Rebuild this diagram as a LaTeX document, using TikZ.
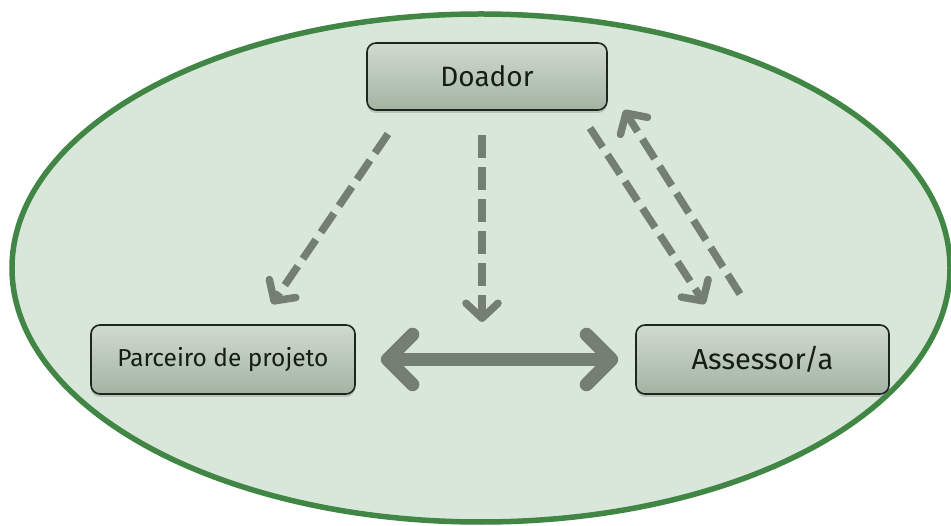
\documentclass[tikz,border=0pt]{standalone}
\usepackage{fontspec}
\setmainfont{Fira Sans}
\usetikzlibrary{arrows.meta,shadows,calc}
\definecolor{ellfill}{HTML}{D9E7DA}
\definecolor{ellline}{HTML}{418645}
\definecolor{arrcol}{HTML}{737F71}
\definecolor{boxtop}{HTML}{D0DBCF}
\definecolor{boxbot}{HTML}{A3B3A2}
\definecolor{boxline}{HTML}{1C261C}
\definecolor{txtcol}{HTML}{141E14}
\tikzset{
  box/.style={rectangle, rounded corners=9pt, draw=boxline, line width=1.6pt,
    top color=boxtop, bottom color=boxbot, text=txtcol,
    drop shadow={opacity=0.35, shadow xshift=0pt, shadow yshift=-3pt},
    inner sep=0pt},
  dasharrow/.style={draw=arrcol, line width=7.5pt, dash pattern=on 23pt off 9pt,
    -{Straight Barb[length=15pt, width=32pt, round]}},
  bigarrow/.style={draw=arrcol, line width=13.5pt,
    {Straight Barb[length=25pt, width=50pt, round]}-{Straight Barb[length=25pt, width=50pt, round]}}
}
\begin{document}
\begin{tikzpicture}[x=1pt,y=-1pt]
\useasboundingbox (0,0) rectangle (951,526);
\fill[white] (0,0) rectangle (951,526);
\draw[fill=ellfill, draw=ellline, line width=5.5pt] (481,268) ellipse [x radius=469, y radius=254];
\node[box, minimum width=240pt, minimum height=67pt, font=\fontsize{28}{31}\selectfont] (doador) at (487,76.5) {Doador};
\node[box, minimum width=264pt, minimum height=69pt, font=\fontsize{24.5}{27}\selectfont] (parceiro) at (223,359.5) {Parceiro de projeto};
\node[box, minimum width=253pt, minimum height=69pt, font=\fontsize{29}{32}\selectfont] (assessor) at (762.5,359.5) {Assessor/a};
\coordinate (s1) at (388,134);
\coordinate (e1) at (272,304);
\coordinate (s2) at (482,135);
\coordinate (e2) at (482,322);
\coordinate (s3) at (590,128);
\coordinate (e3) at (705,304);
\coordinate (s4) at (740,294);
\coordinate (e4) at (624,110);
\draw[dasharrow] (s1) -- (e1);
\draw[dasharrow] (s2) -- (e2);
\draw[dasharrow] (s3) -- (e3);
\draw[dasharrow] (s4) -- (e4);
\draw[bigarrow] ([xshift=25pt]parceiro.east) -- ([xshift=-17pt]assessor.west);
\end{tikzpicture}
\end{document}
